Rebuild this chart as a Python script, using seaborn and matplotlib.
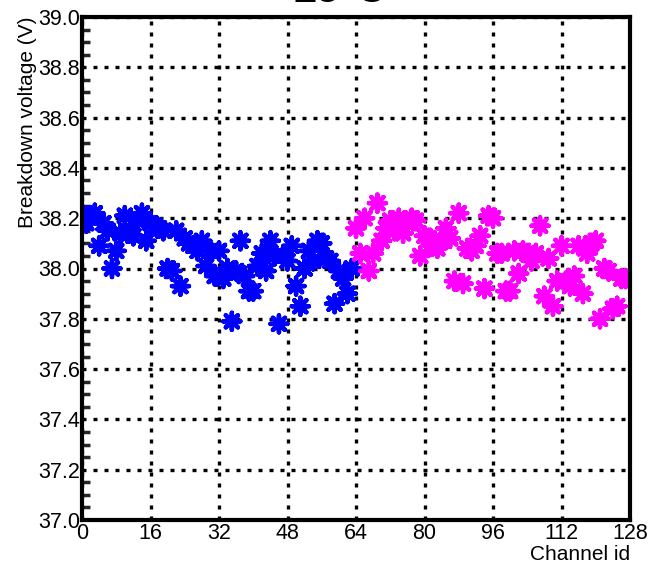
import numpy as np
import pandas as pd
import matplotlib
matplotlib.use("Agg")
import matplotlib.pyplot as plt
import seaborn as sns

# Breakdown voltage per channel (V)
channels_a = list(range(0, 64))
voltage_a = [
    38.22, 38.18, 38.21, 38.22, 38.09, 38.18, 38.15, 38.00,
    38.07, 38.14, 38.21, 38.14, 38.13, 38.19, 38.22, 38.11,
    38.18, 38.17, 38.16, 38.15, 38.00, 37.99, 38.15, 37.93,
    38.12, 38.10, 38.09, 38.07, 38.11, 38.01, 38.07, 37.97,
    38.07, 37.96, 38.00, 37.79, 37.99, 38.11, 37.97, 37.91,
    37.91, 38.01, 38.06, 37.99, 38.11, 38.05, 37.78, 38.05,
    38.03, 38.09, 37.93, 37.85, 38.00, 38.07, 38.03, 38.11,
    38.10, 38.04, 38.03, 37.86, 37.99, 37.96, 37.90, 38.00,
]
channels_b = list(range(64, 128))
voltage_b = [
    38.16, 38.06, 38.20, 37.99, 38.06, 38.26, 38.11, 38.16,
    38.19, 38.15, 38.20, 38.14, 38.18, 38.20, 38.19, 38.05,
    38.13, 38.12, 38.09, 38.08, 38.11, 38.16, 38.12, 37.95,
    38.22, 37.94, 38.08, 38.07, 38.09, 38.13, 37.92, 38.21,
    38.20, 38.06, 38.06, 37.91, 37.91, 38.07, 37.98, 38.07,
    38.06, 38.03, 38.06, 38.17, 37.89, 38.04, 37.85, 37.95,
    38.09, 37.95, 37.93, 37.97, 38.09, 37.90, 38.06, 38.10,
    38.11, 37.80, 38.00, 37.99, 37.84, 37.85, 37.96, 37.96,
]
group_names = ["A", "B"]
group_colors = ["#0000ff", "#ff00ff"]
x_ticks = [0, 16, 32, 48, 64, 80, 96, 112, 128]
y_ticks = [37.0, 37.2, 37.4, 37.6, 37.8, 38.0, 38.2, 38.4, 38.6, 38.8, 39.0]
title_text = "25°C"
x_label = "Channel id"
y_label = "Breakdown voltage (V)"

df = pd.DataFrame({
    "channel": channels_a + channels_b,
    "voltage": voltage_a + voltage_b,
    "group": [group_names[0]] * len(channels_a) + [group_names[1]] * len(channels_b),
})

sns.set_style("white")
plt.rcParams["font.family"] = ["Liberation Sans", "DejaVu Sans"]
plt.rcParams["text.color"] = "black"
plt.rcParams["axes.labelcolor"] = "black"

fig = plt.figure(figsize=(6.54, 5.70), dpi=100)
ax = fig.add_axes([82 / 654, 1 - 520 / 570, 548 / 654, 503 / 570])

ax.set_xlim(0, 128)
ax.set_ylim(37.0, 39.0)
ax.set_xticks(x_ticks)
ax.set_yticks(y_ticks)
ax.set_yticks(np.arange(37.0, 39.0001, 0.05), minor=True)
ax.set_xticklabels([str(t) for t in x_ticks])
ax.set_yticklabels([f"{t:.1f}" for t in y_ticks])

ax.grid(True, which="major", color="black", linewidth=2.4,
        linestyle=(0, (1.2, 2.1)), dash_capstyle="butt")
ax.set_axisbelow(True)

sns.scatterplot(data=df, x="channel", y="voltage", hue="group",
                palette=group_colors, hue_order=group_names,
                marker=(8, 2, 0), s=150, linewidth=3.2,
                legend=False, ax=ax, zorder=3, clip_on=True)

for side in ["left", "right", "top", "bottom"]:
    ax.spines[side].set_visible(True)
    ax.spines[side].set_color("black")
    ax.spines[side].set_linewidth(3.0)
    ax.spines[side].set_zorder(5)

ax.tick_params(axis="both", which="major", direction="in", length=12,
               width=2.5, labelsize=15.5, colors="black")
ax.tick_params(axis="y", which="minor", direction="in", length=6,
               width=2.5, left=True)
ax.tick_params(axis="x", which="major", pad=2, top=False)
ax.tick_params(axis="y", which="major", pad=1.5, right=False)
ax.tick_params(axis="y", which="minor", right=False)

ax.set_xlabel(x_label, fontsize=15, loc="right", labelpad=1)
ax.set_ylabel(y_label, fontsize=15, loc="top", labelpad=1)

fig.text(340 / 654, 1 - 2 / 570, title_text, ha="center", va="baseline",
         fontsize=30, fontweight="bold")

fig.savefig("out.png", dpi=100)
